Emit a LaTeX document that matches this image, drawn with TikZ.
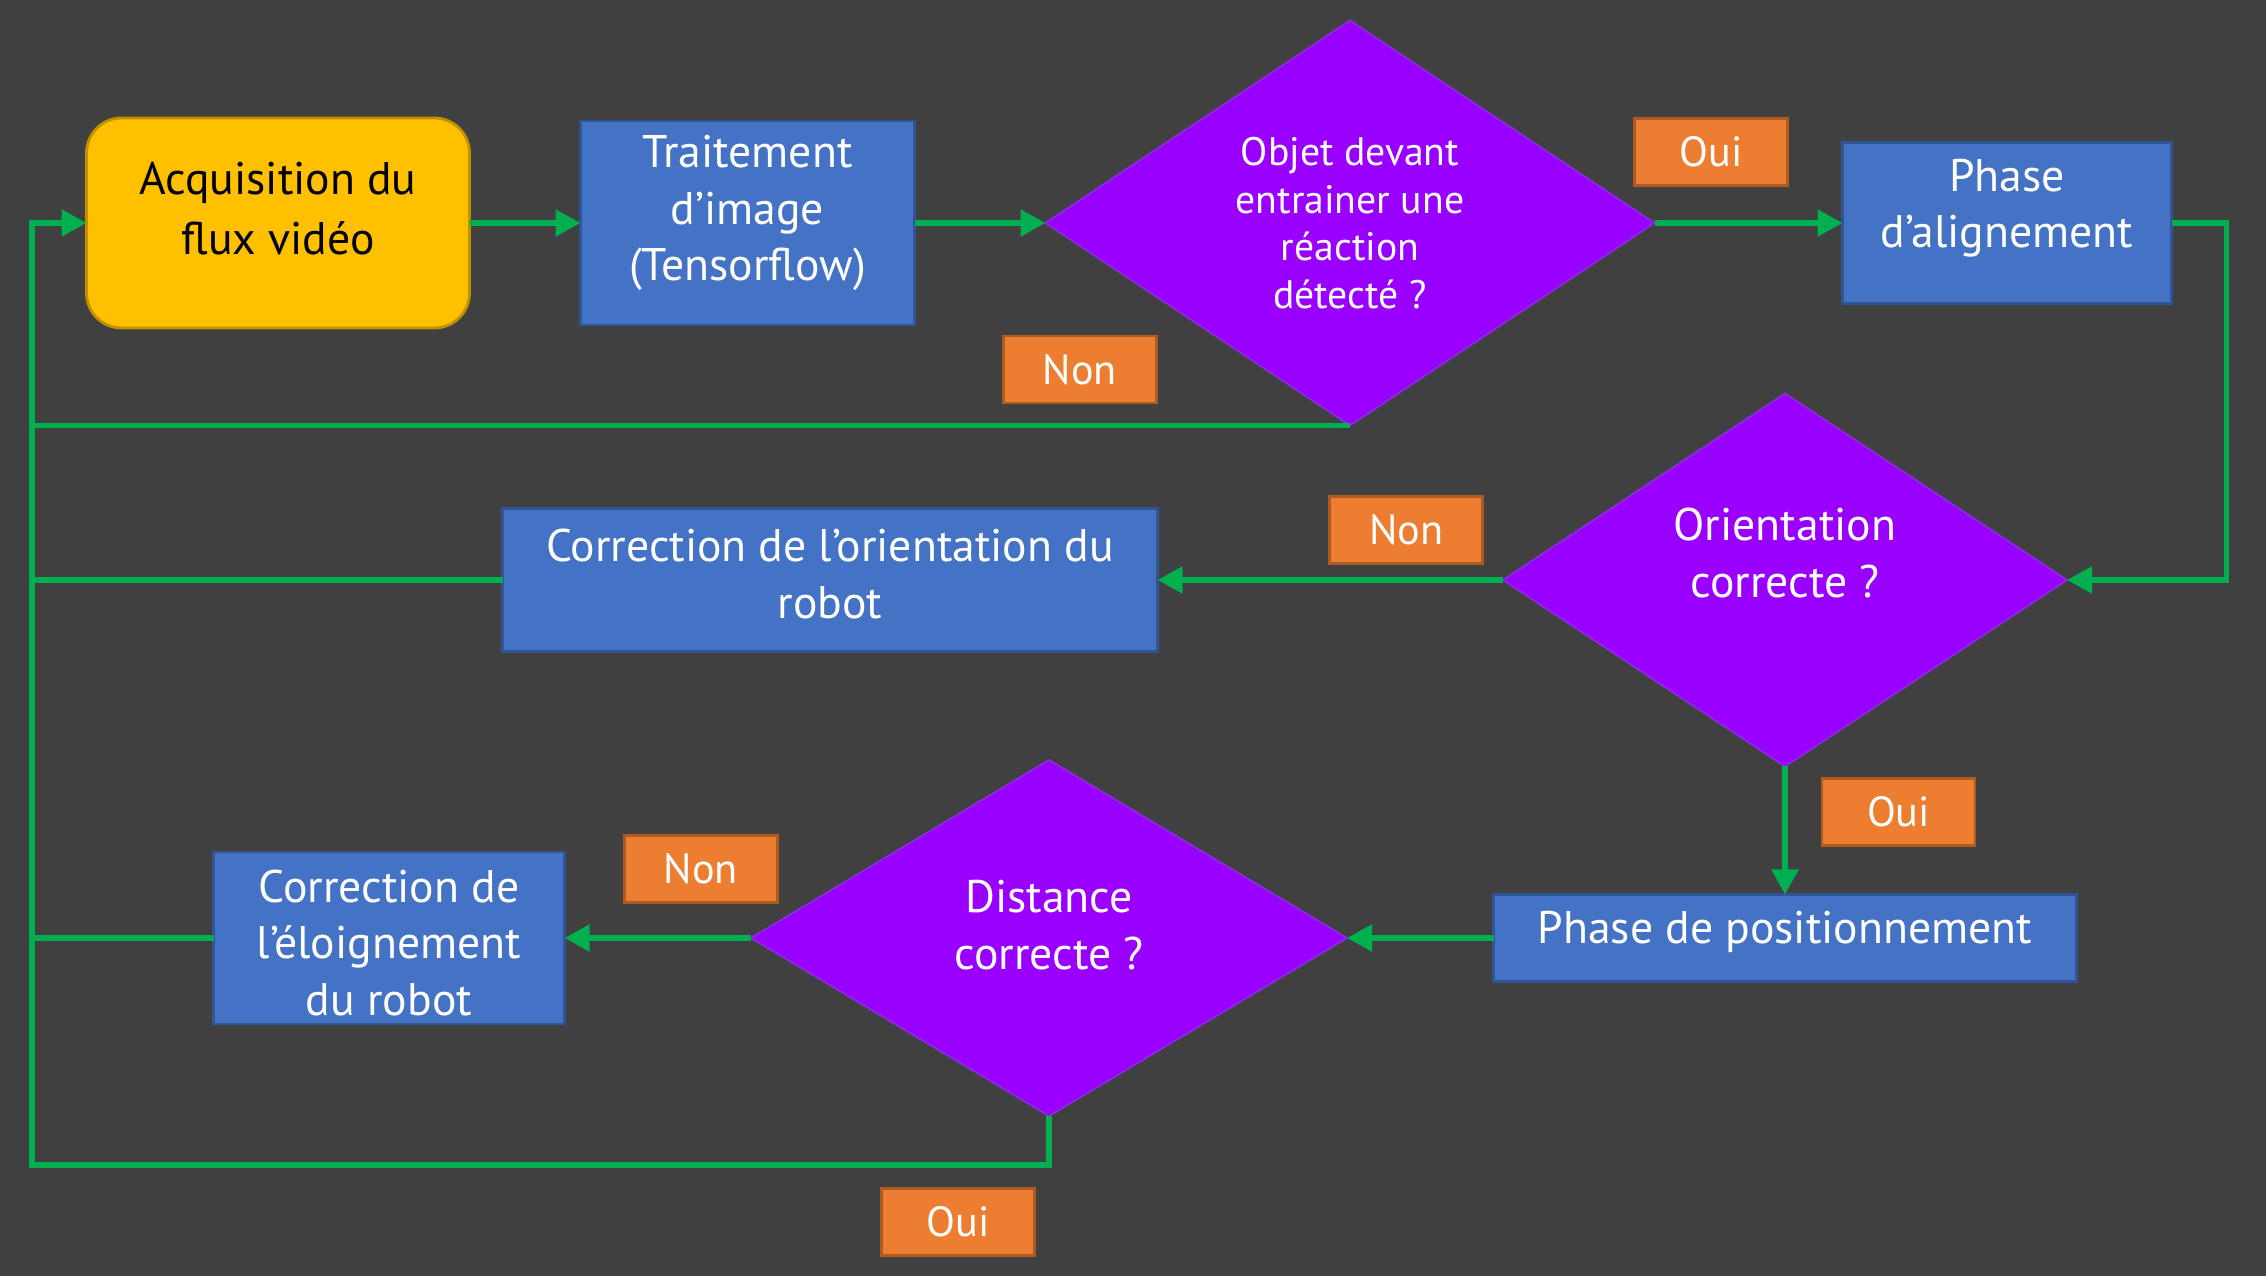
\documentclass[tikz,border=0pt]{standalone}
\usepackage{fontspec}
\setmainfont{PT Sans}
\usetikzlibrary{positioning,shapes.geometric,arrows.meta}
\definecolor{bgdark}{HTML}{404040}
\definecolor{startyellow}{HTML}{FFC000}
\definecolor{startline}{HTML}{BF9000}
\definecolor{boxblue}{HTML}{4472C4}
\definecolor{boxline}{HTML}{2F5597}
\definecolor{testviolet}{HTML}{9900FF}
\definecolor{testline}{HTML}{8A2BE2}
\definecolor{tagorange}{HTML}{ED7D31}
\definecolor{tagline}{HTML}{AE5A21}
\definecolor{flowgreen}{HTML}{00B050}

\begin{document}
\begin{tikzpicture}
	\tikzstyle{box}=[rectangle, draw=boxline, fill=boxblue, line width=0.8pt, inner sep=0pt, outer sep=0pt]
	\tikzstyle{start}=[box, rounded corners=3.5mm, fill=startyellow, draw=startline]
	\tikzstyle{test}=[diamond, shape aspect=1.5, fill=testviolet, draw=testline, line width=0.5pt, inner sep=0pt, outer sep=0pt]
	\tikzstyle{txt}=[align=center, text=white, inner sep=0pt, font=\fontsize{13}{16}\selectfont]
	\tikzstyle{tag}=[rectangle, fill=tagorange, draw=tagline, line width=0.8pt, minimum width=1.53cm, minimum height=0.67cm, inner sep=0pt, outer sep=0pt, text=white, font=\fontsize{12}{14}\selectfont]
	\tikzstyle{connect}=[-{Triangle[length=2.5mm,width=2.6mm]}, line width=1.6pt, draw=flowgreen]
	\tikzstyle{link}=[line width=1.6pt, draw=flowgreen]
	\fill[bgdark] (0,0) rectangle (22.66,12.76);
	\node[start, minimum width=3.83cm, minimum height=2.10cm] (acq) at (2.78,10.53) [label={[txt, text=black, font=\fontsize{13}{17}\selectfont, yshift=1.45mm]center:Acquisition du\\flux vidéo}] { };
	\node[box, minimum width=3.34cm, minimum height=2.04cm] (trait) [right=1.11cm of acq, label={[txt, yshift=1mm]center:Traitement\\d’image\\(Tensorflow)}] { };
	\node[test, minimum width=6.09cm, minimum height=4.05cm] (detect) [right=1.31cm of trait, label={[txt, font=\fontsize{11.3}{13.5}\selectfont]center:Objet devant\\entrainer une\\réaction\\détecté ?}] { };
	\node[box, minimum width=3.29cm, minimum height=1.61cm] (align) [right=1.88cm of detect, label={[txt, yshift=1.45mm]center:Phase\\d’alignement}] { };
	\node[test, minimum width=5.64cm, minimum height=3.73cm] (orient) [below=0.9cm of align, xshift=-2.22cm, label={[txt, yshift=2.7mm]center:Orientation\\correcte ?}] { };
	\node[box, minimum width=6.55cm, minimum height=1.43cm] (corrorient) [left=3.455cm of orient, label={[txt, yshift=0.6mm]center:Correction de l’orientation du\\robot}] { };
	\node[box, minimum width=5.83cm, minimum height=0.87cm] (position) [below=1.28cm of orient, label={[txt, yshift=0.6mm]center:Phase de positionnement}] { };
	\node[test, minimum width=5.96cm, minimum height=3.56cm] (dist) [left=1.465cm of position, label={[txt, yshift=1.3mm]center:Distance\\correcte ?}] { };
	\node[box, minimum width=3.51cm, minimum height=1.72cm] (corrdist) [left=1.865cm of dist, label={[txt, yshift=-0.5mm]center:Correction de\\l’éloignement\\du robot}] { };
	\coordinate (back) at (0.32,1.11);
	\coordinate (turn) at (dist.south |- back);
	\path (acq) edge [connect] (trait)
	(trait) edge [connect] (detect)
	(detect) edge [connect] node[tag, above=0.375cm, pos=0.3] (oui1) {Oui} (align)
	(orient) edge [connect] node[tag, above=0.165cm, pos=0.28] (non2) {Non} (corrorient)
	(orient) edge [connect] node[tag, right=0.37cm, pos=0.355] (oui2) {Oui} (position)
	(position) edge [connect] (dist)
	(dist) edge [connect] node[tag, above=0.355cm, pos=0.27] (non3) {Non} (corrdist);
	\draw[connect] (align.east) -- ++(0.55,0) |- (orient.east);
	\draw[link] (detect.south) -- node[tag, above=0.225cm, pos=0.205] (non1) {Non} (detect.south -| back);
	\draw[link] (corrorient.west) -- (corrorient.west -| back);
	\draw[link] (corrdist.west) -- (corrdist.west -| back);
	\draw[connect] (dist.south) -- (turn) -- (back) |- (acq.west);
	\node[tag, below left=0.235cm and 0.145cm of turn] (oui3) {Oui};
\end{tikzpicture}
\end{document}
